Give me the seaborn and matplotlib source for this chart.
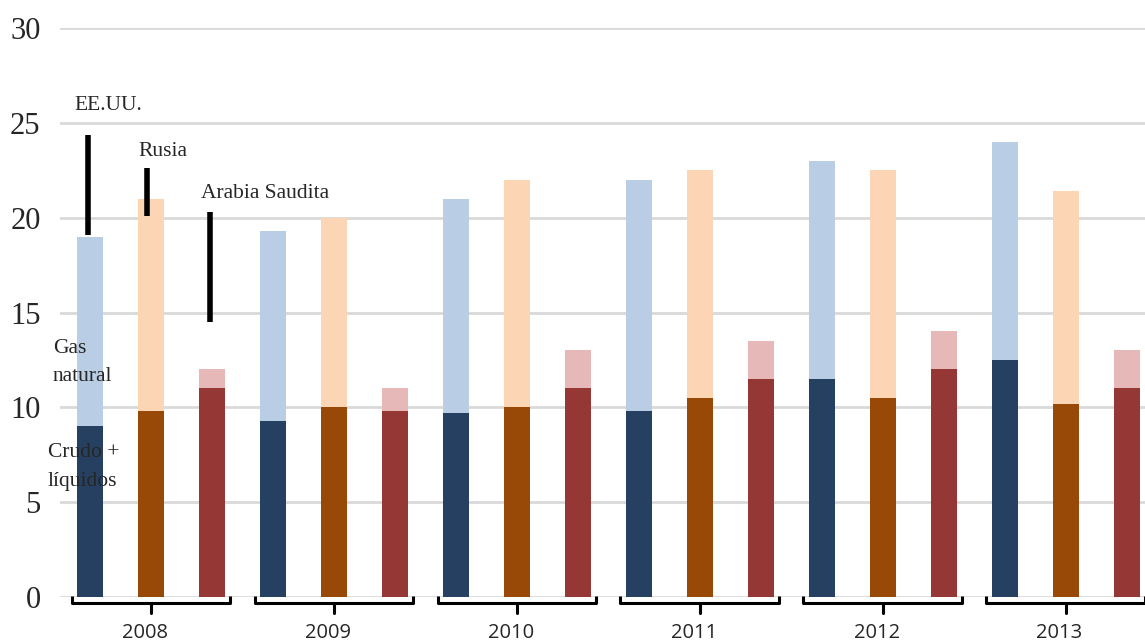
import matplotlib
matplotlib.use("Agg")
import matplotlib.pyplot as plt
import seaborn as sns
import pandas as pd

# Production by country and year (crude + liquids, and total incl. natural gas)
years = ["2008", "2009", "2010", "2011", "2012", "2013"]
countries = ["EE.UU.", "Rusia", "Arabia Saudita"]
crude_us = [9.0, 9.3, 9.7, 9.8, 11.5, 12.5]
total_us = [19.0, 19.3, 21.0, 22.0, 23.0, 24.0]
crude_ru = [9.8, 10.0, 10.0, 10.5, 10.5, 10.2]
total_ru = [21.0, 20.0, 22.0, 22.5, 22.5, 21.4]
crude_sa = [11.0, 9.8, 11.0, 11.5, 12.0, 11.0]
total_sa = [12.0, 11.0, 13.0, 13.5, 14.0, 13.0]
y_ticks = [0, 5, 10, 15, 20, 25, 30]

dark = {"EE.UU.": "#254061", "Rusia": "#984807", "Arabia Saudita": "#953735"}
light = {"EE.UU.": "#b9cde5", "Rusia": "#fcd5b5", "Arabia Saudita": "#e6b9b8"}

crude = {"EE.UU.": crude_us, "Rusia": crude_ru, "Arabia Saudita": crude_sa}
total = {"EE.UU.": total_us, "Rusia": total_ru, "Arabia Saudita": total_sa}

rows = []
for yi, yr in enumerate(years):
    for c in countries:
        rows.append({"slot": f"{yr}-{c}", "year": yr, "country": c,
                     "crude": crude[c][yi], "total": total[c][yi]})
df = pd.DataFrame(rows)
slots = list(df["slot"])
light_pal = {s: light[c] for s, c in zip(df["slot"], df["country"])}
dark_pal = {s: dark[c] for s, c in zip(df["slot"], df["country"])}

sns.set_theme(style="white")
fig = plt.figure(figsize=(11.45, 6.44), dpi=100)
ax = fig.add_axes([60 / 1145, 47 / 644, 1085 / 1145, 569 / 644])

bw = 0.43
sns.barplot(data=df, x="slot", y="total", hue="slot", order=slots, hue_order=slots,
            palette=light_pal, width=bw, legend=False, ax=ax, saturation=1, linewidth=0)
sns.barplot(data=df, x="slot", y="crude", hue="slot", order=slots, hue_order=slots,
            palette=dark_pal, width=bw, legend=False, ax=ax, saturation=1, linewidth=0)

ax.set_xlim(-0.49, 17.3)
ax.set_ylim(0, 30)
ax.set_yticks(y_ticks)
ax.set_yticklabels([str(t) for t in y_ticks], fontsize=22, family="Liberation Serif")
ax.tick_params(axis="y", length=0, pad=14)
ax.set_xticks([])
ax.set_xlabel("")
ax.set_ylabel("")
ax.grid(axis="y", color="#d9d9d9", linewidth=2)
ax.set_axisbelow(True)
for s in ax.spines.values():
    s.set_visible(False)

# Year brackets under each group of three bars
for gi, yr in enumerate(years):
    left = gi * 3 - 0.3
    right = gi * 3 + 2 + 0.3
    mid = (left + right) / 2
    ax.plot([left, left, right, right], [0.05, -0.3, -0.3, 0.05], color="black",
            lw=2.2, clip_on=False, solid_joinstyle="round", solid_capstyle="butt")
    ax.plot([mid, mid], [-0.3, -0.85], color="black", lw=2.2, clip_on=False)
    ax.text(mid - 0.1, -1.9, yr, ha="center", va="center", fontsize=14.5,
            family="Open Sans", clip_on=False)

# Country labels with leader lines
serif = "Liberation Serif"
fs = 15.5
ax.plot([-0.03, -0.03], [19.1, 24.35], color="black", lw=4, solid_capstyle="butt")
ax.plot([0.93, 0.93], [20.1, 22.6], color="black", lw=4, solid_capstyle="butt")
ax.plot([1.97, 1.97], [14.5, 20.3], color="black", lw=4, solid_capstyle="butt")
ax.text(-0.25, 25.9, "EE.UU.", fontsize=fs, family=serif, va="center", ha="left")
ax.text(0.79, 23.5, "Rusia", fontsize=fs, family=serif, va="center", ha="left")
ax.text(1.82, 21.3, "Arabia Saudita", fontsize=fs, family=serif, va="center", ha="left")

# Series labels
ax.text(-0.61, 13.1, "Gas", fontsize=fs, family=serif, va="center", ha="left")
ax.text(-0.61, 11.62, "natural", fontsize=fs, family=serif, va="center", ha="left")
ax.text(-0.69, 7.6, "Crudo +", fontsize=fs, family=serif, va="center", ha="left")
ax.text(-0.69, 6.1, "líquidos", fontsize=fs, family=serif, va="center", ha="left")

fig.savefig("out.png", dpi=100)
